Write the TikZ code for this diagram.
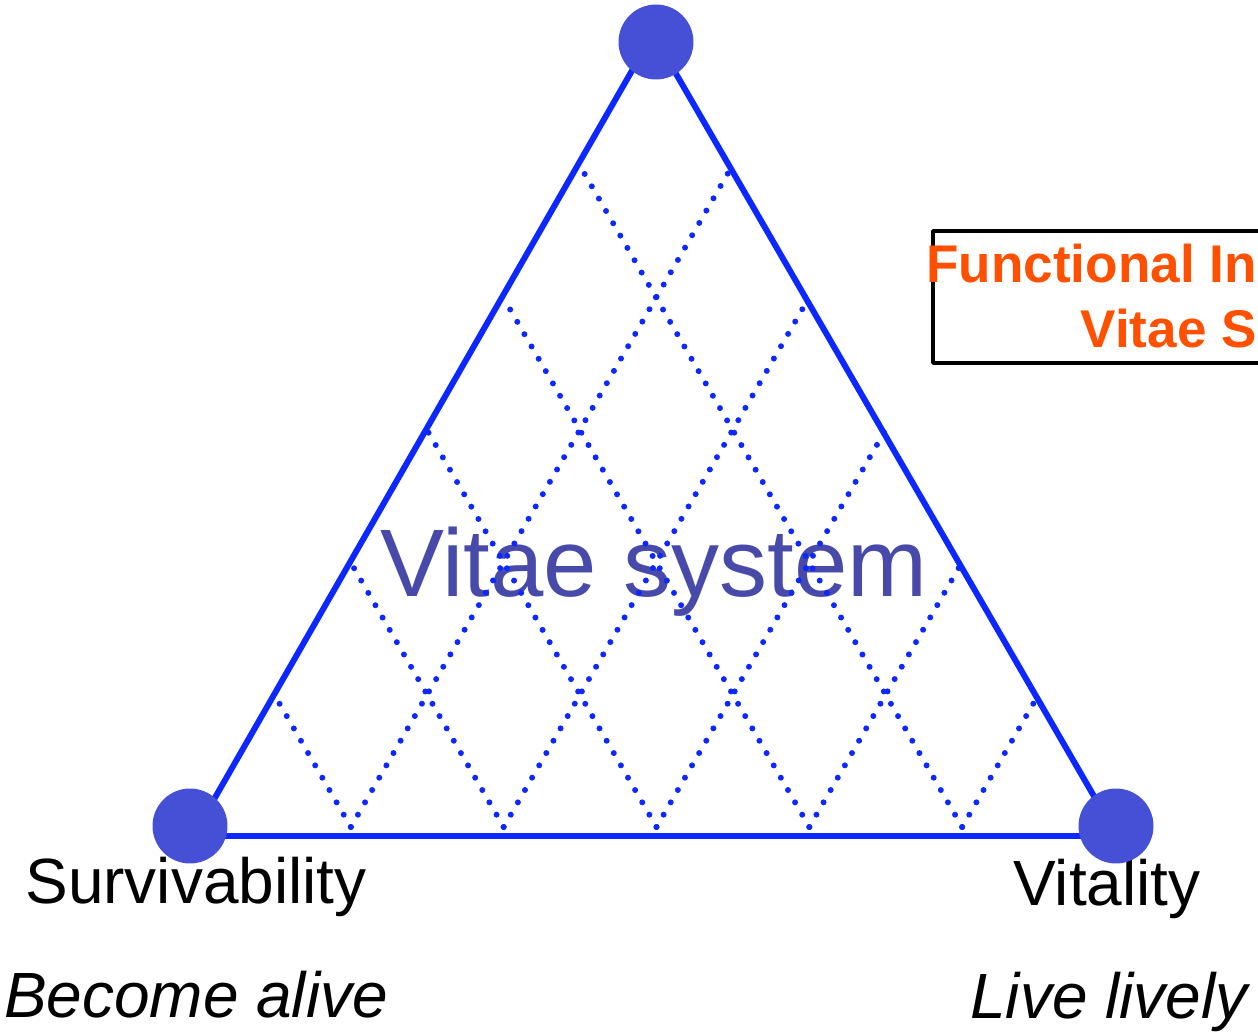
\documentclass[tikz,border=0pt]{standalone}
\usepackage{fontspec}
\setmainfont{Liberation Sans}
\usepackage{xcolor}
\usepackage{tikz}
\usetikzlibrary{calc}

\definecolor{edgeblue}{RGB}{12,40,255}
\definecolor{vertexblue}{RGB}{70,80,214}
\definecolor{titleblue}{RGB}{72,74,170}
\definecolor{funcorange}{RGB}{255,80,0}

\begin{document}
\begin{tikzpicture}[x=0.02cm, y=-0.02cm, line join=round]
      \tikzstyle{vertex dot} = [circle, fill=vertexblue, inner sep=0pt, minimum size=1.5cm]
      \tikzstyle{edge line} = [draw=edgeblue, line width=3.4pt]
      \tikzstyle{grid line} = [draw=edgeblue, line width=3.4pt, line cap=round, dash pattern=on 0pt off 8.1pt]
      \tikzstyle{axis text} = [font=\fontsize{36.4}{40}\selectfont, anchor=base, inner sep=0pt]
      \tikzstyle{axis motto} = [font=\fontsize{36.4}{40}\selectfont\itshape, anchor=base, inner sep=0pt]
      \useasboundingbox (0,0) rectangle (1258,1033);
      \clip (0,0) rectangle (1258,1033);
      %corners
      \coordinate (tt) at (653,34);
      \coordinate (tl) at (193,836);
      \coordinate (tr) at (1117,836);
      \coordinate (gt) at (656,33);
      \coordinate (gl) at (198,827);
      \coordinate (gr) at (1115,827);
      %texts
      \node[font=\fontsize{54.6}{60}\selectfont, text=titleblue, anchor=base, inner sep=0pt] (system) at (654,597) {Vitae system};
      \node[axis text]  (survname)  at (196,903)  {Survivability};
      \node[axis motto] (survmotto) at (196,1017) {Become alive};
      \node[axis text]  (vitalname)  at (1107,905)  {Vitality};
      \node[axis motto] (vitalmotto) at (1109,1018) {Live lively};
      \draw[line width=2.1pt] (933,231) rectangle (1300,363);
      \node[font=\fontsize{30.2}{37}\selectfont\bfseries, text=funcorange, align=right, anchor=north east, inner sep=0pt] (func) at (1257,244) {Functional In\\Vitae S};
      %grid
      \foreach \k in {1,...,5} {
        \draw[grid line] ($(gl)!\k/6!(gr)$) -- ($(gl)!\k/6!(gt)$);
        \draw[grid line] ($(gl)!\k/6!(gr)$) -- ($(gt)!\k/6!(gr)$);
      }
      %lines
      \draw[edge line] (tl) -- (tt) -- (tr) -- (tl);
      %nodes
      \node[vertex dot] (top)   at (656,42)  {};
      \node[vertex dot] (surv)  at (190,826) {};
      \node[vertex dot] (vital) at (1116,826) {};
\end{tikzpicture}
\end{document}
